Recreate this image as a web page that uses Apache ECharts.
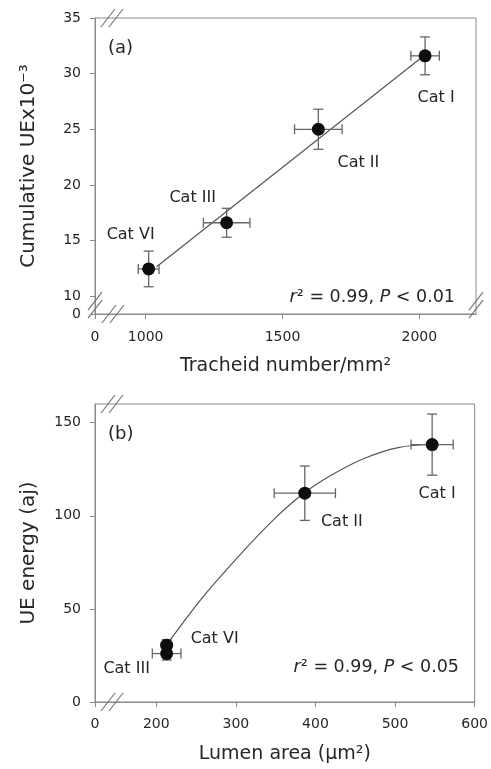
<!DOCTYPE html>
<html><head><meta charset="utf-8">
<script src="https://cdn.jsdelivr.net/npm/echarts@6/dist/echarts.min.js"></script>
<style>html,body{margin:0;padding:0;background:#fff}#c{width:491px;height:769px}</style>
</head><body><div id="c"></div>
<script>
// ---------- Panel (a) data ----------
const categoriesA = ['Cat I', 'Cat II', 'Cat III', 'Cat VI'];
const tracheidNumber = [2021, 1631, 1296, 1011];
const tracheidErr = [52, 87, 85, 38];
const cumulativeUE = [31.6, 25.0, 16.6, 12.45];
const cumulativeUEErr = [1.7, 1.8, 1.3, 1.6];
const fitLineA = [[1040, 12.65], [2021, 31.7]];
const xTicksA = [1000, 1500, 2000];
const yTicksA = [10, 15, 20, 25, 30, 35];
const xStartA = 815;   // broken axis start, labelled 0
const xEndA = 2207;
const yStartA = 8.4;   // broken axis start, labelled 0
const yEndA = 35;

// ---------- Panel (b) data ----------
const categoriesB = ['Cat I', 'Cat II', 'Cat III', 'Cat VI'];
const lumenArea = [546.6, 386.6, 213, 213];
const lumenErr = [26.5, 38.5, 18, 4];
const ueEnergy = [138.2, 112.1, 26, 30.5];
const ueEnergyErr = [16.4, 14.6, 3.5, 3];
const fitCurveB = [[216.6, 32.8], [245.8, 49.5], [266.6, 60.5], [308.3, 80.5], [350, 99],
                   [385.4, 112.1], [420.8, 122], [462.5, 131], [504, 136.6], [545.8, 138.4]];
const xTicksB = [200, 300, 400, 500, 600];
const yTicksB = [0, 50, 100, 150];
const xStartB = 123;   // broken axis start, labelled 0
const xEndB = 600;
const yEndB = 160;

// ---------- styles ----------
const FONT = 'DejaVu Sans';
const TXT = '#262626';
const AXC = '#8a8a8a';
const labelOffA = [[11, 42], [40, 34], [-34, -25], [-18, -34]];
const labelOffB = [[5, 49], [37, 29], [-40, 15], [48, -6]];

const chart = echarts.init(document.getElementById('c'), null, {renderer: 'canvas'});

function errRender(params, api) {
  const x = api.value(0), y = api.value(1), ex = api.value(2), ey = api.value(3);
  const c = api.coord([x, y]);
  const l = api.coord([x - ex, y]), r = api.coord([x + ex, y]);
  const t = api.coord([x, y + ey]), b = api.coord([x, y - ey]);
  const h = 5;
  const style = {stroke: '#666', lineWidth: 1.3};
  return {type: 'group', children: [
    {type: 'line', shape: {x1: l[0], y1: c[1], x2: r[0], y2: c[1]}, style},
    {type: 'line', shape: {x1: l[0], y1: c[1] - h, x2: l[0], y2: c[1] + h}, style},
    {type: 'line', shape: {x1: r[0], y1: c[1] - h, x2: r[0], y2: c[1] + h}, style},
    {type: 'line', shape: {x1: c[0], y1: t[1], x2: c[0], y2: b[1]}, style},
    {type: 'line', shape: {x1: c[0] - h, y1: t[1], x2: c[0] + h, y2: t[1]}, style},
    {type: 'line', shape: {x1: c[0] - h, y1: b[1], x2: c[0] + h, y2: b[1]}, style}
  ]};
}

function near(v, ref) { return Math.abs(v - ref) < 1e-6; }

const tickLabel = {fontFamily: FONT, fontSize: 14, color: TXT};
const nameStyle = {fontFamily: FONT, fontSize: 19, color: TXT};

const option = {
  animation: false,
  backgroundColor: '#fff',
  grid: [
    {left: 95, top: 18, width: 381, height: 296, show: true, borderColor: AXC, borderWidth: 1},
    {left: 95, top: 404, width: 381, height: 298, show: true, borderColor: AXC, borderWidth: 1}
  ],
  xAxis: [
    {type: 'value', gridIndex: 0, min: xStartA, max: xEndA,
     axisLine: {show: true, lineStyle: {color: AXC, width: 1}},
     axisTick: {show: true, length: 5, lineStyle: {color: AXC}, customValues: [xStartA].concat(xTicksA)},
     axisLabel: Object.assign({margin: 16, customValues: [xStartA].concat(xTicksA),
       formatter: v => near(v, xStartA) ? '0' : String(Math.round(v))}, tickLabel),
     splitLine: {show: false},
     name: 'Tracheid number/mm²', nameLocation: 'middle', nameGap: 43, nameTextStyle: nameStyle},
    {type: 'value', gridIndex: 1, min: xStartB, max: xEndB,
     axisLine: {show: true, lineStyle: {color: AXC, width: 1}},
     axisTick: {show: true, length: 5, lineStyle: {color: AXC}, customValues: [xStartB].concat(xTicksB)},
     axisLabel: Object.assign({margin: 15, customValues: [xStartB].concat(xTicksB),
       formatter: v => near(v, xStartB) ? '0' : String(Math.round(v))}, tickLabel),
     splitLine: {show: false},
     name: 'Lumen area (µm²)', nameLocation: 'middle', nameGap: 43, nameTextStyle: nameStyle}
  ],
  yAxis: [
    {type: 'value', gridIndex: 0, min: yStartA, max: yEndA,
     axisLine: {show: true, lineStyle: {color: AXC, width: 1}},
     axisTick: {show: true, length: 5, lineStyle: {color: AXC}, customValues: [yStartA].concat(yTicksA)},
     axisLabel: Object.assign({margin: 14, customValues: [yStartA].concat(yTicksA),
       formatter: v => near(v, yStartA) ? '0' : String(Math.round(v))}, tickLabel),
     splitLine: {show: false},
     name: 'Cumulative UEx10⁻³', nameLocation: 'middle', nameGap: 56,
     nameTextStyle: Object.assign({}, nameStyle, {fontSize: 20})},
    {type: 'value', gridIndex: 1, min: 0, max: yEndB,
     axisLine: {show: true, lineStyle: {color: AXC, width: 1}},
     axisTick: {show: true, length: 5, lineStyle: {color: AXC}, customValues: yTicksB},
     axisLabel: Object.assign({margin: 14, customValues: yTicksB,
       formatter: v => String(Math.round(v))}, tickLabel),
     splitLine: {show: false},
     name: 'UE energy (aj)', nameLocation: 'middle', nameGap: 56,
     nameTextStyle: Object.assign({}, nameStyle, {fontSize: 20})}
  ],
  series: [
    {type: 'line', xAxisIndex: 0, yAxisIndex: 0, data: fitLineA, symbol: 'none',
     lineStyle: {color: '#555', width: 1.2}, z: 1},
    {type: 'custom', xAxisIndex: 0, yAxisIndex: 0, renderItem: errRender, encode: {x: 0, y: 1},
     data: tracheidNumber.map((x, i) => [x, cumulativeUE[i], tracheidErr[i], cumulativeUEErr[i]]), z: 2},
    {type: 'scatter', xAxisIndex: 0, yAxisIndex: 0, symbolSize: 13, z: 3,
     itemStyle: {color: '#0d0d0d', opacity: 1},
     data: tracheidNumber.map((x, i) => ({
       value: [x, cumulativeUE[i]], name: categoriesA[i],
       label: {show: true, position: 'inside', offset: labelOffA[i], formatter: categoriesA[i],
               fontFamily: FONT, fontSize: 16, color: TXT}}))},

    {type: 'line', xAxisIndex: 1, yAxisIndex: 1, data: fitCurveB, symbol: 'none', smooth: 0.4,
     lineStyle: {color: '#555', width: 1.2}, z: 1},
    {type: 'custom', xAxisIndex: 1, yAxisIndex: 1, renderItem: errRender, encode: {x: 0, y: 1},
     data: lumenArea.map((x, i) => [x, ueEnergy[i], lumenErr[i], ueEnergyErr[i]]), z: 2},
    {type: 'scatter', xAxisIndex: 1, yAxisIndex: 1, symbolSize: 13, z: 3,
     itemStyle: {color: '#0d0d0d', opacity: 1},
     data: lumenArea.map((x, i) => ({
       value: [x, ueEnergy[i]], name: categoriesB[i],
       label: {show: true, position: 'inside', offset: labelOffB[i], formatter: categoriesB[i],
               fontFamily: FONT, fontSize: 16, color: TXT}}))}
  ]
};
chart.setOption(option);

// decorations: panel letters, statistics, axis-break marks
function slashes(cx, cy, horizontal) {
  const out = [];
  const offs = horizontal ? [[-4, 0], [4, 0]] : [[0, -4], [0, 4]];
  offs.forEach(o => {
    out.push({type: 'line', z: 10, silent: true,
      shape: {x1: cx + o[0] - 7, y1: cy + o[1] + 9, x2: cx + o[0] + 7, y2: cy + o[1] - 9},
      style: {stroke: '#777', lineWidth: 1.2}});
  });
  return out;
}
const pA0 = chart.convertToPixel({gridIndex: 0}, [xStartA, yStartA]);
const pA1 = chart.convertToPixel({gridIndex: 0}, [xEndA, yEndA]);
const pA10 = chart.convertToPixel({gridIndex: 0}, [xStartA, 10]);
const pB0 = chart.convertToPixel({gridIndex: 1}, [xStartB, 0]);
const pB1 = chart.convertToPixel({gridIndex: 1}, [xEndB, yEndB]);

const rich = {i: {fontStyle: 'italic', fontFamily: FONT, fontSize: 17.5, fill: TXT}};
const graphics = [].concat(
  slashes(pA0[0] + 17, pA1[1], true),
  slashes(pA0[0] + 18, pA0[1], true),
  slashes(pA0[0], (pA0[1] + pA10[1]) / 2, false),
  slashes(pA1[0], (pA0[1] + pA10[1]) / 2, false),
  slashes(pB0[0] + 17, pB1[1], true),
  slashes(pB0[0] + 17, pB0[1], true),
  [
    {type: 'text', left: pA0[0] + 13, top: pA1[1] + 21,
     style: {text: '(a)', font: '18px "DejaVu Sans"', fill: TXT}},
    {type: 'text', left: pB0[0] + 13, top: pB1[1] + 21,
     style: {text: '(b)', font: '18px "DejaVu Sans"', fill: TXT}},
    {type: 'text', right: 491 - 455, top: 288,
     style: {text: '{i|r}² = 0.99, {i|P} < 0.01', rich, font: '17.5px "DejaVu Sans"', fill: TXT}},
    {type: 'text', right: 491 - 459, top: 658,
     style: {text: '{i|r}² = 0.99, {i|P} < 0.05', rich, font: '17.5px "DejaVu Sans"', fill: TXT}}
  ]
);
chart.setOption({graphic: graphics});
</script>
</body></html>
